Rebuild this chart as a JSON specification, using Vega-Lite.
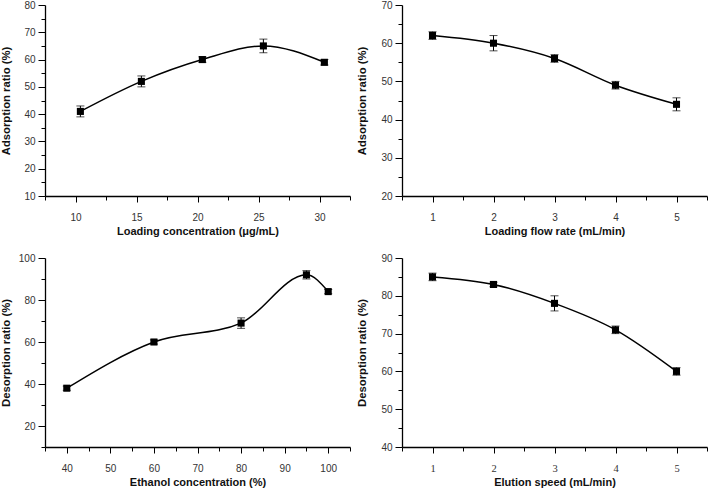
{
  "$schema": "https://vega.github.io/schema/vega-lite/v6.json",
  "padding": {"left": 0, "top": 0, "right": 2, "bottom": 0},
  "background": "white",
  "datasets": {
    "a": [
      {"x": 10.4, "y": 41, "e": 2},
      {"x": 15.4, "y": 52, "e": 2},
      {"x": 20.4, "y": 60, "e": 1},
      {"x": 25.4, "y": 65, "e": 2.5},
      {"x": 30.4, "y": 59, "e": 1}
    ],
    "b": [
      {"x": 1, "y": 62, "e": 1},
      {"x": 2, "y": 60, "e": 2},
      {"x": 3, "y": 56, "e": 1},
      {"x": 4, "y": 49, "e": 1},
      {"x": 5, "y": 44, "e": 1.7}
    ],
    "c": [
      {"x": 40, "y": 38, "e": 1},
      {"x": 60, "y": 60, "e": 1},
      {"x": 80, "y": 69, "e": 2.5},
      {"x": 95, "y": 92, "e": 2},
      {"x": 100, "y": 84, "e": 1}
    ],
    "d": [
      {"x": 1, "y": 85, "e": 1},
      {"x": 2, "y": 83, "e": 0.6},
      {"x": 3, "y": 78, "e": 2},
      {"x": 4, "y": 71, "e": 1},
      {"x": 5, "y": 60, "e": 1}
    ]
  },
  "columns": 2,
  "spacing": {"row": 62, "column": 52},
  "bounds": "flush",
  "concat": [
    {
      "width": 305, "height": 191,
      "data": {"name": "a"},
      "encoding": {
        "x": {"field": "x", "type": "quantitative", "scale": {"domain": [7.5, 32.5], "nice": false, "zero": false},
          "axis": {"title": "Loading concentration (μg/mL)", "values": [7.5, 10, 12.5, 15, 17.5, 20, 22.5, 25, 27.5, 30, 32.5],
            "labelExpr": "datum.value % 5 === 0 ? datum.label : ''", "tickSize": {"condition": {"test": "datum.value % 5 === 0", "value": 6}, "value": 4}, "labelPadding": 10, "titlePadding": 3}},
        "y": {"field": "y", "type": "quantitative", "scale": {"domain": [10, 80], "nice": false, "zero": false},
          "axis": {"title": "Adsorption ratio (%)", "values": [10, 15, 20, 25, 30, 35, 40, 45, 50, 55, 60, 65, 70, 75, 80],
            "labelExpr": "datum.value % 10 === 0 ? datum.label : ''", "tickSize": {"condition": {"test": "datum.value % 10 === 0", "value": 7}, "value": 4}, "labelPadding": 3, "titleX": -34}}
      },
      "layer": [
        {"mark": {"type": "line", "interpolate": "monotone", "color": "black", "strokeWidth": 1.5}},
        {"mark": {"type": "errorbar", "ticks": {"size": 8, "color": "black"}, "rule": {"color": "black", "strokeWidth": 1}}, "encoding": {"yError": {"field": "e"}}},
        {"mark": {"type": "point", "shape": "square", "filled": true, "size": 50, "color": "black", "opacity": 1}},
        {"data": {"values": [{"label": "(a)"}]}, "mark": {"type": "text", "align": "left", "baseline": "middle", "fontWeight": "bold", "fontSize": 11, "font": "Liberation Sans", "color": "black"},
          "encoding": {"x": {"datum": 8.15}, "y": {"datum": 76}, "text": {"field": "label"}}}
      ]
    },
    {
      "width": 305, "height": 191,
      "data": {"name": "b"},
      "encoding": {
        "x": {"field": "x", "type": "quantitative", "scale": {"domain": [0.5, 5.5], "nice": false, "zero": false},
          "axis": {"title": "Loading flow rate (mL/min)", "values": [0.5, 1, 1.5, 2, 2.5, 3, 3.5, 4, 4.5, 5, 5.5],
            "labelExpr": "datum.value % 1 === 0 ? format(datum.value, 'd') : ''", "tickSize": {"condition": {"test": "datum.value % 1 === 0", "value": 6}, "value": 4}, "labelPadding": 10, "titlePadding": 3}},
        "y": {"field": "y", "type": "quantitative", "scale": {"domain": [20, 70], "nice": false, "zero": false},
          "axis": {"title": "Adsorption ratio (%)", "values": [20, 25, 30, 35, 40, 45, 50, 55, 60, 65, 70],
            "labelExpr": "datum.value % 10 === 0 ? datum.label : ''", "tickSize": {"condition": {"test": "datum.value % 10 === 0", "value": 7}, "value": 4}, "labelPadding": 3, "titleX": -35}}
      },
      "layer": [
        {"mark": {"type": "line", "interpolate": "monotone", "color": "black", "strokeWidth": 1.5}},
        {"mark": {"type": "errorbar", "ticks": {"size": 8, "color": "black"}, "rule": {"color": "black", "strokeWidth": 1}}, "encoding": {"yError": {"field": "e"}}},
        {"mark": {"type": "point", "shape": "square", "filled": true, "size": 50, "color": "black", "opacity": 1}},
        {"data": {"values": [{"label": "(b)"}]}, "mark": {"type": "text", "align": "left", "baseline": "middle", "fontWeight": "bold", "fontSize": 11, "font": "Liberation Sans", "color": "black"},
          "encoding": {"x": {"datum": 0.73}, "y": {"datum": 67.2}, "text": {"field": "label"}}}
      ]
    },
    {
      "width": 305, "height": 189,
      "data": {"name": "c"},
      "encoding": {
        "x": {"field": "x", "type": "quantitative", "scale": {"domain": [35, 105], "nice": false, "zero": false},
          "axis": {"title": "Ethanol concentration (%)", "values": [35, 40, 45, 50, 55, 60, 65, 70, 75, 80, 85, 90, 95, 100, 105],
            "labelExpr": "datum.value % 10 === 0 ? datum.label : ''", "tickSize": {"condition": {"test": "datum.value % 10 === 0", "value": 6}, "value": 4}, "labelPadding": 10, "titlePadding": 3}},
        "y": {"field": "y", "type": "quantitative", "scale": {"domain": [10, 100], "nice": false, "zero": false},
          "axis": {"title": "Desorption ratio (%)", "values": [10, 20, 30, 40, 50, 60, 70, 80, 90, 100],
            "labelExpr": "datum.value % 20 === 0 ? datum.label : ''", "tickSize": {"condition": {"test": "datum.value % 20 === 0", "value": 7}, "value": 4}, "labelPadding": 3, "titleX": -34}}
      },
      "layer": [
        {"mark": {"type": "line", "interpolate": "monotone", "color": "black", "strokeWidth": 1.5}},
        {"mark": {"type": "errorbar", "ticks": {"size": 8, "color": "black"}, "rule": {"color": "black", "strokeWidth": 1}}, "encoding": {"yError": {"field": "e"}}},
        {"mark": {"type": "point", "shape": "square", "filled": true, "size": 50, "color": "black", "opacity": 1}},
        {"data": {"values": [{"label": "(c)"}]}, "mark": {"type": "text", "align": "left", "baseline": "middle", "fontWeight": "bold", "fontSize": 11, "font": "Liberation Sans", "color": "black"},
          "encoding": {"x": {"datum": 36.8}, "y": {"datum": 99.3}, "text": {"field": "label"}}}
      ]
    },
    {
      "width": 305, "height": 189,
      "data": {"name": "d"},
      "encoding": {
        "x": {"field": "x", "type": "quantitative", "scale": {"domain": [0.5, 5.5], "nice": false, "zero": false},
          "axis": {"title": "Elution speed (mL/min)", "values": [0.5, 1, 1.5, 2, 2.5, 3, 3.5, 4, 4.5, 5, 5.5],
            "labelExpr": "datum.value % 1 === 0 ? format(datum.value, 'd') : ''", "tickSize": {"condition": {"test": "datum.value % 1 === 0", "value": 6}, "value": 4}, "labelPadding": 10, "titlePadding": 3, "labelFont": "Liberation Serif", "labelFontSize": 10.5}},
        "y": {"field": "y", "type": "quantitative", "scale": {"domain": [40, 90], "nice": false, "zero": false},
          "axis": {"title": "Desorption ratio (%)", "values": [40, 45, 50, 55, 60, 65, 70, 75, 80, 85, 90],
            "labelExpr": "datum.value % 10 === 0 ? datum.label : ''", "tickSize": {"condition": {"test": "datum.value % 10 === 0", "value": 7}, "value": 4}, "labelPadding": 3, "titleX": -35}}
      },
      "layer": [
        {"mark": {"type": "line", "interpolate": "monotone", "color": "black", "strokeWidth": 1.5}},
        {"mark": {"type": "errorbar", "ticks": {"size": 8, "color": "black"}, "rule": {"color": "black", "strokeWidth": 1}}, "encoding": {"yError": {"field": "e"}}},
        {"mark": {"type": "point", "shape": "square", "filled": true, "size": 50, "color": "black", "opacity": 1}},
        {"data": {"values": [{"label": "(d)"}]}, "mark": {"type": "text", "align": "left", "baseline": "middle", "fontWeight": "bold", "fontSize": 11, "font": "Liberation Sans", "color": "black"},
          "encoding": {"x": {"datum": 0.73}, "y": {"datum": 89.5}, "text": {"field": "label"}}}
      ]
    }
  ],
  "config": {
    "view": {"stroke": null},
    "axis": {
      "grid": false,
      "domainColor": "black",
      "domainWidth": 1.3,
      "tickColor": "black",
      "tickWidth": 1,
      "labelFont": "Liberation Sans",
      "labelFontSize": 10,
      "labelColor": "#333",
      "titleFont": "Liberation Sans",
      "titleFontSize": 11.3,
      "titleFontWeight": "bold",
      "titleColor": "#111"
    },
    "axisX": {"titleFontSize": 11}
  }
}
